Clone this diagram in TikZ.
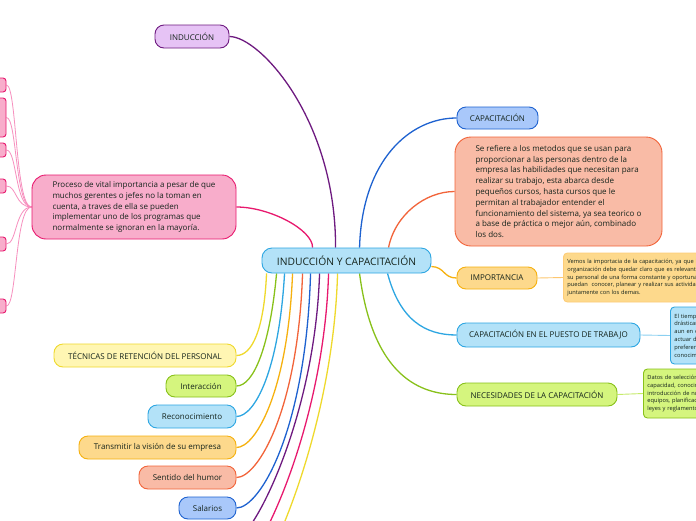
\documentclass[tikz,border=0pt]{standalone}
\usepackage{fontspec}
\setmainfont{Open Sans}
\usetikzlibrary{calc}
\pgfdeclarelayer{bg}
\pgfsetlayers{bg,main}
\definecolor{txt}{HTML}{15241C}
\definecolor{purF}{HTML}{E6C3F5}\definecolor{purD}{HTML}{6E1A80}
\definecolor{bluF}{HTML}{A9C8FA}\definecolor{bluD}{HTML}{1E62D0}
\definecolor{salF}{HTML}{F9BBA6}\definecolor{salD}{HTML}{F2643A}
\definecolor{oraF}{HTML}{FDD98C}\definecolor{oraD}{HTML}{F6B10F}
\definecolor{lbF}{HTML}{B3E2F8}\definecolor{lbD}{HTML}{2DA6E2}
\definecolor{grnF}{HTML}{D5F57E}\definecolor{grnD}{HTML}{88C11A}
\definecolor{pnkF}{HTML}{F8ADCB}\definecolor{pnkD}{HTML}{E8196E}
\definecolor{pnkL}{HTML}{F78FBE}
\definecolor{yelF}{HTML}{FFF6B3}\definecolor{yelD}{HTML}{EFD92C}
\tikzset{
  base/.style={draw, line width=0.9pt, inner sep=0pt, text=txt, font=\fontsize{8}{9}\selectfont},
  pill/.style={base, rounded corners=9pt, minimum height=23pt},
  para/.style={base, align=left, font=\fontsize{8}{10.8}\selectfont},
  smallp/.style={base, anchor=west, align=left, rounded corners=4pt, inner xsep=4pt, font=\fontsize{5.7}{7.8}\selectfont},
  conn/.style={line width=1.3pt},
  lnk/.style={line width=0.9pt},
  fan/.style={line width=0.8pt, pnkL},
  leaf/.style={base, draw=pnkD, fill=pnkF, rounded corners=3pt, minimum width=16pt},
}
\begin{document}
\begin{tikzpicture}[x=1pt,y=-1pt]
\useasboundingbox (0,0) rectangle (696,520);

% central
\node[pill, draw=lbD, fill=lbF, minimum width=169pt, minimum height=25pt, rounded corners=10pt, font=\fontsize{10.3}{12}\selectfont] (c) at (346.5,260.5) {INDUCCIÓN Y CAPACITACIÓN};

% top / right
\node[pill, draw=purD, fill=purF, minimum width=74pt] (ind) at (192,36.5) {INDUCCIÓN};
\node[pill, draw=bluD, fill=bluF, minimum width=81pt, minimum height=22pt] (cap) at (497.5,118) {CAPACITACIÓN};
\node[para, draw=salD, fill=salF, minimum width=207pt, minimum height=109pt, rounded corners=16pt] (capt) at (558.5,191.5) {Se refiere a los metodos que se usan para\\proporcionar a las personas dentro de la\\empresa las habilidades que necesitan para\\realizar su trabajo, esta abarca desde\\pequeños cursos, hasta cursos que le\\permitan al trabajador entender el\\funcionamiento del sistema, ya sea teorico o\\a base de práctica o mejor aún, combinado\\los dos.};
\node[pill, draw=oraD, fill=oraF, minimum width=80pt, minimum height=22pt] (imp) at (497,278) {IMPORTANCIA};
\node[smallp, draw=oraF!85!orange, fill=oraF, minimum height=49pt, text width=200pt] (impt) at (563,277.5) {Vemos la importacia de la capacitación, ya que la\\organización debe quedar claro que es relevante que\\su personal de una forma constante y oportuna\\puedan\ \ conocer, planear y realizar sus actividades\\juntamente con los demas.};
\node[pill, draw=lbD, fill=lbF, minimum width=183pt, minimum height=24pt] (puesto) at (548.5,335) {CAPACITACIÓN EN EL PUESTO DE TRABAJO};
\node[smallp, draw=lbD, fill=lbF, minimum height=57pt, text width=80pt] (puestot) at (670,335.5) {El tiempo\\drásticamente\\aun en el\\actuar de\\preferentemente\\conocimiento};
\node[pill, draw=grnD, fill=grnF, minimum width=160pt] (nec) at (537,394.5) {NECESIDADES DE LA CAPACITACIÓN};
\node[smallp, draw=grnD, fill=grnF, minimum height=49pt, text width=90pt] (nect) at (643,393.5) {Datos de selección\\capacidad, conocimientos\\introducción de nuevos\\equipos, planificación\\leyes y reglamentos};

% left pink
\node[para, draw=pnkD, fill=pnkF, minimum width=204pt, minimum height=64pt, rounded corners=14pt] (pink) at (134,207) {Proceso de vital importancia a pesar de que\\muchos gerentes o jefes no la toman en\\cuenta, a traves de ella se pueden\\implementar uno de los programas que\\normalmente se ignoran en la mayoría.};
\node[leaf, minimum height=14pt] (l1) at (-2,85) {};
\node[leaf, minimum height=39pt] (l2) at (-2,117.5) {};
\node[leaf, minimum height=14pt] (l3) at (-2,150) {};
\node[leaf, minimum height=14pt] (l4) at (-2,186) {};
\node[leaf, minimum height=14pt] (l5) at (-2,244) {};
\node[leaf, minimum height=14pt] (l6) at (-2,306) {};
\coordinate (fx) at (17,0);

% bottom left
\node[pill, draw=yelD, fill=yelF, minimum width=182pt] (tec) at (145,355.5) {TÉCNICAS DE RETENCIÓN DEL PERSONAL};
\node[pill, draw=grnD, fill=grnF, minimum width=70pt, minimum height=22pt] (inter) at (201,386) {Interacción};
\node[pill, draw=lbD, fill=lbF, minimum width=88pt] (recon) at (192,416.5) {Reconocimiento};
\node[pill, draw=oraD, fill=oraF, minimum width=157pt] (trans) at (157.5,447.5) {Transmitir la visión de su empresa};
\node[pill, draw=salD, fill=salF, minimum width=97pt] (humor) at (187.5,477.5) {Sentido del humor};
\node[pill, draw=bluD, fill=bluF, minimum width=57pt, minimum height=22pt] (salar) at (207.5,508) {Salarios};
\coordinate (o1) at (236,539);
\coordinate (o2) at (236,569);
\coordinate (o3) at (236,600);

\begin{pgfonlayer}{bg}
\fill[white] (0,0) rectangle (696,520);
\draw[conn, purD] ([xshift=74pt]c.north west) .. controls (336,120) and (260,36.5) .. (ind.east);
\draw[conn, pnkD] ([xshift=51pt]c.north west) .. controls (313,230) and (270,207) .. (pink.east);
\draw[conn, bluD] ([xshift=98pt]c.north west) .. controls (362,160) and (410,118) .. (cap.west);
\draw[conn, salD] ([xshift=127pt]c.north west) .. controls (395,215) and (425,191.5) .. (capt.west);
\draw[conn, oraD] ([yshift=-6pt]c.east) .. controls (445,267) and (443,278) .. (imp.west);
\draw[conn, lbD] ([xshift=126pt]c.south west) .. controls (400,320) and (425,335) .. (puesto.west);
\draw[conn, grnD] ([xshift=98pt]c.south west) .. controls (372,370) and (415,394.5) .. (nec.west);
\draw[lnk, oraF!80!orange] (imp.east) -- (impt.west);
\draw[lnk, lbF!70!lbD] (puesto.east) -- (puestot.west);
\draw[lnk, grnF!80!grnD] (nec.east) -- (nect.west);

\draw[conn, yelD] ([xshift=5pt]c.south west) .. controls (264,330) and (252,355.5) .. (tec.east);
\draw[conn, grnD] ([xshift=15pt]c.south west) .. controls (270,345) and (254,386) .. (inter.east);
\draw[conn, lbD] ([xshift=23pt]c.south west) .. controls (279,370) and (255,416.5) .. (recon.east);
\draw[conn, oraD] ([xshift=31pt]c.south west) .. controls (288,390) and (256,447.5) .. (trans.east);
\draw[conn, salD] ([xshift=41pt]c.south west) .. controls (298,410) and (258,477.5) .. (humor.east);
\draw[conn, bluD] ([xshift=49pt]c.south west) .. controls (306,430) and (260,508) .. (salar.east);
\draw[conn, purD] ([xshift=58pt]c.south west) .. controls (315,420) and (252,539) .. (o1);
\draw[conn, pnkD] ([xshift=67pt]c.south west) .. controls (324,430) and (255,569) .. (o2);
\draw[conn, yelD] ([xshift=76pt]c.south west) .. controls (333,440) and (258,600) .. (o3);

\foreach \n in {l1,l2,l3,l4,l5,l6}{
  \draw[fan] (pink.west) .. controls (15,207) and (fx |- \n.east) .. (\n.east);
}
\end{pgfonlayer}
\end{tikzpicture}
\end{document}
